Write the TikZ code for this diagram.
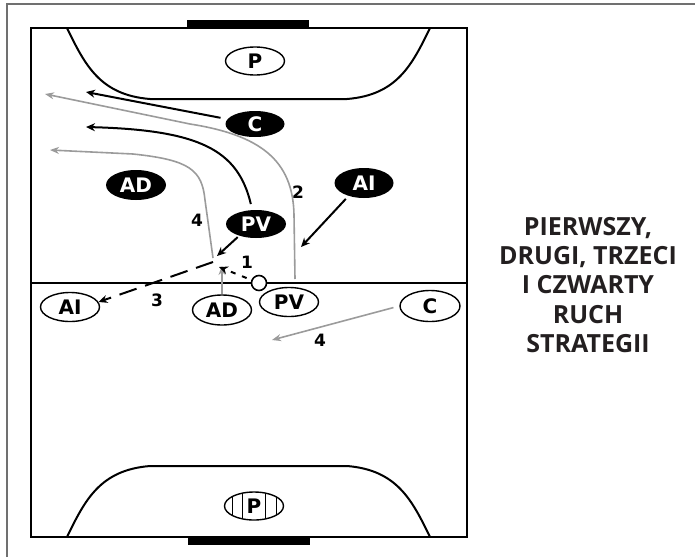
\documentclass[tikz,border=0pt]{standalone}
\usepackage{fontspec}
\setsansfont{Open Sans}
\newfontfamily\playerfont{DejaVu Sans}
\usetikzlibrary{shapes.geometric,arrows.meta,positioning}
\definecolor{moveGrey}{RGB}{155,155,155}
\definecolor{frameGrey}{RGB}{112,112,112}
\definecolor{titleInk}{RGB}{35,31,32}
\tikzset{
  courtline/.style={draw=black, line width=1.7pt},
  goalarea/.style={draw=black, line width=2pt, line cap=round},
  goalbar/.style={fill=black},
  darkplayer/.style={ellipse, fill=black, text=white, minimum width=59pt, minimum height=28pt,
    inner sep=0pt, font=\playerfont\bfseries\fontsize{20}{20}\selectfont},
  lightplayer/.style={darkplayer, fill=white, draw=black, line width=1.4pt, text=black},
  balldot/.style={circle, draw=black, fill=white, line width=1.6pt, minimum size=15pt, inner sep=0pt},
  darkmove/.style={-{Stealth[length=9pt,width=8pt]}, draw=black, line width=2pt},
  greymove/.style={-{Stealth[length=9pt,width=7pt]}, draw=moveGrey, line width=1.6pt},
  passmove/.style={darkmove, dash pattern=on 18pt off 9pt},
  movelabel/.style={font=\playerfont\bfseries\fontsize{17}{17}\selectfont, inner sep=0pt},
  titletext/.style={font=\sffamily\bfseries\fontsize{25}{29.3}\selectfont, text=titleInk, align=center},
}

\begin{document}
\begin{tikzpicture}[x=1pt,y=-1pt]
  \useasboundingbox (0,0) rectangle (695,557);
  \draw[frameGrey, line width=2pt] (7,557) -- (7,4) -- (695,4);

  \draw[courtline] (31,28) rectangle (467,537);
  \draw[courtline] (31,283) -- (467,283);
  \fill[goalbar] (187,20) rectangle (309,28);
  \fill[goalbar] (188,537) rectangle (310,545);
  \draw[goalarea] (67,28) .. controls (85,65) and (100,95) .. (150,99) -- (347,99)
    .. controls (397,95) and (412,65) .. (430,28);
  \draw[goalarea] (67,537) .. controls (85,500) and (100,470) .. (150,466) -- (347,466)
    .. controls (397,470) and (412,500) .. (430,537);

  \node[lightplayer] (g1) at (255,61) {P};
  \node[lightplayer, path picture={
      \foreach \dx in {-22,-12,11,22}
        \draw[line width=1pt] ([xshift=\dx pt]path picture bounding box.north)
          -- ([xshift=\dx pt]path picture bounding box.south);}] (g2) at (254,506) {P};

  \node[darkplayer, minimum height=26pt] (d1) at (255,124) {C};
  \node[darkplayer, minimum width=60pt, minimum height=30pt] (d2) at (136,185) {AD};
  \node[darkplayer, minimum height=30pt] (d3) at (364,183) {AI};
  \node[darkplayer, minimum width=60pt] (d4) at (256,224) {PV};

  \node[lightplayer, minimum height=29pt] (l1) at (70,307) {AI};
  \node[lightplayer, minimum height=30pt] (l2) at (222,310) {AD};
  \node[lightplayer, minimum height=29pt] (l3) at (289,302) {PV};
  \node[lightplayer, minimum width=60pt, minimum height=31pt] (l4) at (430,306) {C};
  \node[balldot] (ball) at (259,283) {};

  \coordinate (tipC) at (86,92);
  \coordinate (tipPV) at (86,127);
  \coordinate (tipAI) at (301,247);
  \coordinate (tipPVb) at (217,256);
  \coordinate (start2) at (295,279);
  \coordinate (tip2) at (45,94);
  \coordinate (start4) at (213,258);
  \coordinate (tip4) at (50,150);
  \coordinate (tipAD) at (222,266);
  \coordinate (tipC4) at (272,340);
  \coordinate (start3) at (213,262);
  \coordinate (tip1) at (219,267);

  \draw[greymove] (start2) -- (294,215) .. controls (293,160) and (260,135) .. (190,124) -- (tip2);
  \draw[greymove] (start4) -- (205,200) .. controls (202,170) and (190,160) .. (133,154) -- (tip4);
  \draw[greymove] (l2.north) -- (tipAD);
  \draw[greymove, shorten <=6pt] (l4.west) -- (tipC4);

  \draw[darkmove, shorten <=7pt] (d1.170) -- (tipC);
  \draw[darkmove, shorten <=6pt] (d4.105) .. controls (238,150) and (200,130) .. (tipPV);
  \draw[darkmove, shorten <=4pt] (d3.220) -- (tipAI);
  \draw[darkmove, shorten <=2pt] (d4.215) -- (tipPVb);
  \draw[passmove] (start3) -- (l1.10);
  \draw[passmove, dash pattern=on 5pt off 7pt, shorten <=5pt] (ball) -- (tip1);

  \node[movelabel] (n1) at (247,262) {1};
  \node[movelabel] (n2) at (298,192) {2};
  \node[movelabel] (n3) at (157,300) {3};
  \node[movelabel] (n4) at (197,220) {4};
  \node[movelabel] (n4b) at (320,340) {4};

  \node[titletext] (title) at (588,285) {PIERWSZY,\\DRUGI, TRZECI\\I CZWARTY\\RUCH\\STRATEGII};
\end{tikzpicture}
\end{document}
